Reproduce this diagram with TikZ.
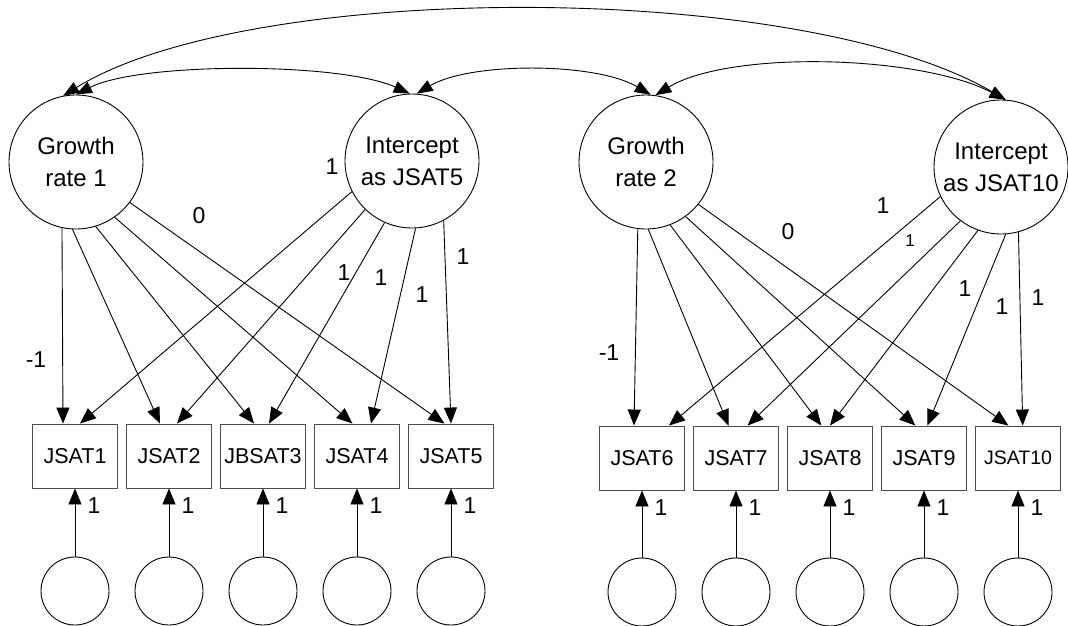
\documentclass[tikz,border=0pt]{standalone}
\usepackage{fontspec}
\setmainfont{Liberation Sans}
\usetikzlibrary{arrows.meta}
\tikzset{
  lat/.style={circle, draw, line width=0.9pt, minimum size=134pt, inner sep=0pt, align=center, font=\fontsize{24}{32}\selectfont},
  obs/.style={rectangle, draw=black!70, line width=0.9pt, minimum width=85pt, minimum height=64pt, inner sep=0pt, font=\fontsize{21.5}{24}\selectfont},
  err/.style={circle, draw, line width=0.9pt, minimum size=68pt, inner sep=0pt},
  arr/.style={-{Triangle[length=16pt,width=13pt]}, line width=0.9pt},
  dbl/.style={{Triangle[length=16pt,width=12pt]}-{Triangle[length=16pt,width=12pt]}, line width=0.9pt},
  lab/.style={font=\fontsize{23}{26}\selectfont, inner sep=0pt},
  slab/.style={font=\fontsize{17}{20}\selectfont, inner sep=0pt},
}
\begin{document}
\begin{tikzpicture}[x=1pt,y=-1pt]
\useasboundingbox (0,0) rectangle (1068,626);
% latent factors
\node[lat] (g1) at (76,162) {Growth\\rate 1};
\node[lat] (i5) at (412,161) {Intercept\\as JSAT5};
\node[lat] (g2) at (646,162) {Growth\\rate 2};
\node[lat] (i10) at (1001,167) {Intercept\\as JSAT10};
% observed variables and errors, left group
\foreach \n/\x/\t in {1/75/JSAT1, 2/169/JSAT2, 3/263/JBSAT3, 4/357/JSAT4, 5/451/JSAT5} {
  \node[obs] (b\n) at (\x,456) {\t};
  \node[err] (e\n) at (\x,591) {};
  \draw[arr] (e\n) -- node[lab, pos=0.75, xshift=19pt] (el\n) {1} (b\n);
}
% right group
\foreach \n/\x/\t in {6/642/JSAT6, 7/736/JSAT7, 8/830/JSAT8, 9/924/JSAT9} {
  \node[obs] (b\n) at (\x,458) {\t};
  \node[err] (e\n) at (\x,592) {};
  \draw[arr] (e\n) -- node[lab, pos=0.75, xshift=19pt] (el\n) {1} (b\n);
}
\node[obs, font=\fontsize{19.5}{22}\selectfont] (b10) at (1018,458) {JSAT10};
\node[err] (e10) at (1018,592) {};
\draw[arr] (e10) -- node[lab, pos=0.75, xshift=19pt] (el10) {1} (b10);
% loadings, left
\draw[arr] (g1.-102.5) -- ([xshift=-12pt]b1.north);
\draw[arr] (g1.-93.8) -- ([xshift=-9pt]b2.north);
\draw[arr] (g1.-73.5) -- ([xshift=-9pt]b3.north);
\draw[arr] (g1.-55.1) -- ([xshift=-4.5pt]b4.north);
\draw[arr] (g1.-37.3) -- ([xshift=-6.6pt]b5.north);
\draw[arr] (i5.-153.6) -- ([xshift=5pt]b1.north);
\draw[arr] (i5.-134.2) -- ([xshift=8pt]b2.north);
\draw[arr] (i5.-114.9) -- ([xshift=6pt]b3.north);
\draw[arr] (i5.-87.3) -- ([xshift=14pt]b4.north);
\draw[arr] (i5.-62.2) -- ([xshift=0pt]b5.north);
% loadings, right
\draw[arr] (g2.-97.5) -- ([xshift=-8pt]b6.north);
\draw[arr] (g2.-88.8) -- ([xshift=-7.5pt]b7.north);
\draw[arr] (g2.-69) -- ([xshift=-8.7pt]b8.north);
\draw[arr] (g2.-54.1) -- ([xshift=-8.6pt]b9.north);
\draw[arr] (g2.-39) -- ([xshift=-9.6pt]b10.north);
\draw[arr] (i10.-154.5) -- ([xshift=27pt]b6.north);
\draw[arr] (i10.-127) -- ([xshift=11.6pt]b7.north);
\draw[arr] (i10.-110) -- ([xshift=0pt]b8.north);
\draw[arr] (i10.-86) -- ([xshift=3.4pt]b9.north);
\draw[arr] (i10.-75.7) -- ([xshift=4.7pt]b10.north);
% covariances
\draw[dbl] (g1.90) .. controls (140,62) and (340,62) .. (i5.92);
\draw[dbl] (i5.86) .. controls (470,62) and (595,62) .. (g2.86);
\draw[dbl] (g2.82) .. controls (730,50) and (920,55) .. (i10.86);
\draw[dbl] (g1.101) .. controls (250,-20) and (800,-20) .. (i10.86);
% loading labels, left
\node[lab] (la1) at (332,167) {1};
\node[lab] (la2) at (199,216) {0};
\node[lab] (la3) at (344,273) {1};
\node[lab] (la4) at (381,278) {1};
\node[lab] (la5) at (422,295) {1};
\node[lab] (la6) at (463,257) {1};
\node[lab] (la7) at (36,360) {-1};
% loading labels, right
\node[lab] (lb1) at (883,206) {1};
\node[lab] (lb2) at (788,232) {0};
\node[slab] (lb3) at (910,241) {1};
\node[lab] (lb4) at (965,289) {1};
\node[lab] (lb5) at (1002,307) {1};
\node[lab] (lb6) at (1038,298) {1};
\node[lab] (lb7) at (609,353) {-1};
\end{tikzpicture}
\end{document}
